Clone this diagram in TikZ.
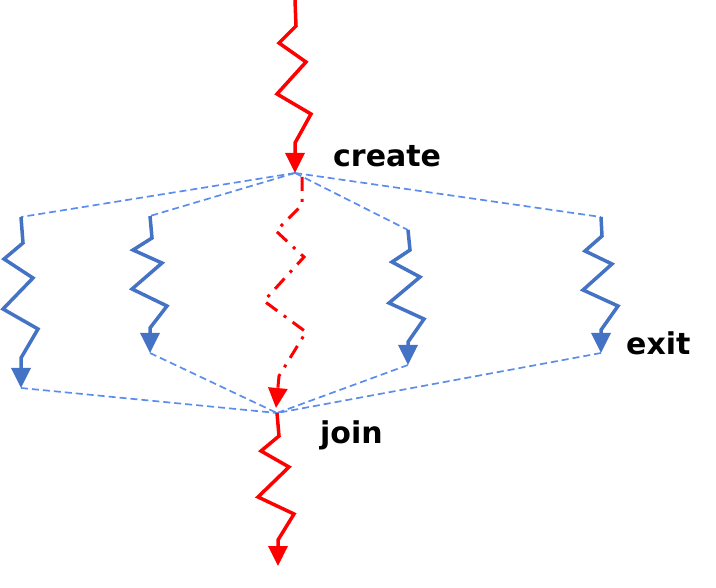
\documentclass[tikz,border=0pt]{standalone}
\usepackage{fontspec}
\setmainfont{DejaVu Sans}
\usetikzlibrary{arrows.meta}
\definecolor{tred}{HTML}{FF0000}
\definecolor{tblue}{HTML}{4472C4}
\definecolor{tdash}{HTML}{5B8DEF}
\tikzset{
  redline/.style={draw=tred, line width=3.5pt, line join=miter, -{Triangle[width=19pt,length=20pt]}},
  blueline/.style={draw=tblue, line width=3.5pt, line join=miter, -{Triangle[width=19pt,length=20pt]}},
  reddash/.style={draw=tred, line width=3pt, dash pattern=on 14pt off 8pt on 3pt off 8pt, -{Triangle[width=19pt,length=20pt]}},
  fork/.style={draw=tdash, line width=1.7pt, dash pattern=on 7pt off 4pt},
  lbl/.style={font=\fontsize{30}{32}\selectfont\bfseries, anchor=base west, inner sep=0pt}
}
\begin{document}
\begin{tikzpicture}[x=1pt,y=-1pt]
\useasboundingbox (0,0) rectangle (716,588);
% key coordinates
\coordinate (top) at (295,0);
\coordinate (C) at (295,173);
\coordinate (J) at (277,413);
\coordinate (bot) at (278,566);
\coordinate (t1) at (21,217);
\coordinate (t2) at (150,216);
\coordinate (t3) at (408,230);
\coordinate (t4) at (601,217);
\coordinate (e1) at (21,388);
\coordinate (e2) at (150,353);
\coordinate (e3) at (408,365);
\coordinate (e4) at (601,353);
\coordinate (rs) at (302,177);
\coordinate (re) at (276,408);
% fork / join dashed lines
\foreach \t in {t1,t2,t3,t4} \draw[fork] (C) -- (\t);
\foreach \e in {e1,e2,e3,e4} \draw[fork] (\e) -- (J);
% main red thread
\draw[redline] (top) -- (296,26) -- (279,43) -- (306,62) -- (277,94) -- (311,114) -- (295,143) -- (C);
\draw[redline] (J) -- (279,436) -- (261,451) -- (289,467) -- (258,497) -- (294,514) -- (278,540) -- (bot);
% red dash-dot thread
\draw[reddash] (rs) -- (302,205) -- (276,231) -- (304,257) -- (264,301) -- (306,332) -- (279,376) -- (re);
% blue threads
\draw[blueline] (t1) -- (23,243) -- (4,259) -- (33,278) -- (3,309) -- (38,329) -- (21,358) -- (e1);
\draw[blueline] (t2) -- (152,238) -- (133,250) -- (162,263) -- (132,289) -- (167,306) -- (150,328) -- (e2);
\draw[blueline] (t3) -- (410,250) -- (392,262) -- (420,277) -- (389,303) -- (424,319) -- (408,342) -- (e3);
\draw[blueline] (t4) -- (602,236) -- (585,251) -- (612,264) -- (583,290) -- (618,306) -- (601,330) -- (e4);
% labels
\node[lbl] (lcreate) at (333,167) {create};
\node[lbl] (lexit) at (626,355) {exit};
\node[lbl] (ljoin) at (320,444) {join};
\end{tikzpicture}
\end{document}
